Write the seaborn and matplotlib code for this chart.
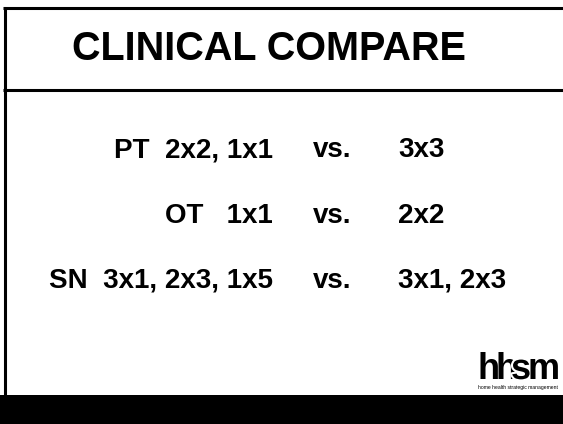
import matplotlib
matplotlib.use("Agg")
import matplotlib.pyplot as plt
import matplotlib.patheffects as pe
import seaborn as sns

# slide content
title = "CLINICAL COMPARE"
left_items = ["PT  2x2, 1x1", "OT   1x1", "SN  3x1, 2x3, 1x5"]
right_items = ["3x3", "2x2", "3x1, 2x3"]
separator = "vs."
row_y = [150, 216, 281]
logo_letters = ["h", "h", "s", "m"]
logo_caption = "home health strategic management"

sns.set_theme(style="white")
plt.rcParams['font.family'] = ['Liberation Sans', 'DejaVu Sans']
plt.rcParams['text.color'] = 'black'

fig = plt.figure(figsize=(5.63, 4.24), dpi=100)
ax = fig.add_axes([0, 0, 1, 1])
ax.set_xlim(0, 563)
ax.set_ylim(424, 0)
ax.axis('off')

# frame of the slide
ax.plot([3, 563], [8, 8], color='black', lw=2.2, solid_capstyle='butt')
ax.plot([4.5, 4.5], [7, 396], color='black', lw=2.2, solid_capstyle='butt')
ax.plot([3, 563], [90, 90], color='black', lw=2.2, solid_capstyle='butt')
ax.add_patch(plt.Rectangle((0, 395), 563, 29, color='black', lw=0))

# title
ax.text(269, 49, title, fontsize=28.5, fontweight='bold',
        ha='center', va='center', color='black')

# comparison rows
for left, right, y in zip(left_items, right_items, row_y):
    ax.text(273, y, left, fontsize=20, fontweight='bold', ha='right', va='center', color='black')
    ax.text(313, y, separator, fontsize=20, fontweight='bold', ha='left', va='center', color='black')
    ax.text(398, y, right, fontsize=20, fontweight='bold', ha='left', va='center', color='black')

# logo
logo_x = [477, 495, 511, 528]
for letter, x in zip(logo_letters, logo_x):
    effects = [pe.withStroke(linewidth=3, foreground='white')] if letter == 's' else None
    ax.text(x, 379, letter, fontsize=26, fontweight='bold', ha='left', va='baseline',
            color='black', family=['Liberation Sans Narrow', 'Liberation Sans'],
            path_effects=effects)
ax.text(518, 387, logo_caption, fontsize=3.6, ha='center', va='center', color='black')

fig.savefig("out.png", dpi=100)
